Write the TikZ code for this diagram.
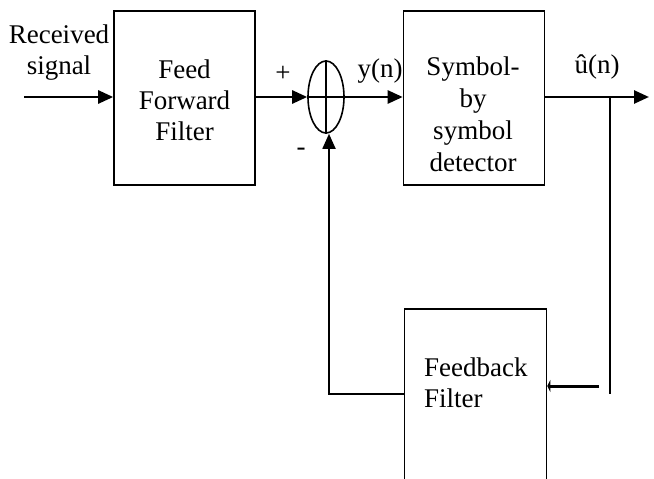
\documentclass[tikz,border=0pt]{standalone}
\usepackage{fontspec}
\setmainfont{Liberation Serif}
\usetikzlibrary{arrows.meta,shapes.geometric}
\begin{document}
\begin{tikzpicture}[x=1pt,y=-1pt,
  blk/.style={draw,line width=1.6pt,minimum width=141pt,minimum height=174pt,inner sep=0pt},
  lbl/.style={font=\fontsize{27}{31}\selectfont,inner sep=0pt,align=center},
  sig/.style={line width=2.6pt,-{Triangle[length=15pt,width=13pt]}},
  fbl/.style={line width=1.8pt}]
\clip (0,0) rectangle (654,479);
% blocks
\node[blk] (ff) at (184.5,98) {};
\node[blk] (sd) at (474,98) {};
\node[draw,line width=1.6pt,minimum width=142pt,minimum height=220pt,inner sep=0pt] (fb) at (475.5,419) {};
\node[draw,ellipse,line width=1.6pt,minimum width=36pt,minimum height=72pt,inner sep=0pt] (sum) at (326,97) {};
\draw[line width=1.6pt] (sum.north) -- (sum.south);
\draw[line width=1.6pt] (sum.west) -- (sum.east);
% texts
\node[lbl] (rx) at (59,53) {Received\\signal};
\node[lbl] (fft) at (184.5,100.5) {Feed\\Forward\\Filter};
\node[lbl,font=\fontsize{27}{32}\selectfont] (sdt) at (473,114) {Symbol-\\by\\symbol\\detector};
\node[lbl,align=left,anchor=west] (fbt) at (424,383) {Feedback\\Filter};
\node[lbl] (plus) at (283,74) {+};
\node[lbl] (minus) at (301,152) {-};
\node[lbl,anchor=base] (yn) at (380,77) {y(n)};
\node[lbl,anchor=base] (un) at (597,73) {\^{u}(n)};
% coordinates
\coordinate (in) at (24,97);
\coordinate (out) at (649,97);
\coordinate (br) at (610,97);
\coordinate (brb) at (610,394);
\coordinate (fbin) at (599,386);
\coordinate (fbout) at (329,394);
% connectors
\draw[sig] (in) -- (ff.west |- in);
\draw[sig] (ff.east |- sum) -- (sum.west);
\draw[sig] (sum.east) -- (sd.west |- sum);
\draw[sig] (sd.east |- out) -- (out);
\draw[fbl] (br) -- (brb);
\draw[line width=3pt,-{Triangle[length=3pt,width=12pt]}] (fbin) -- (fb.east |- fbin);
\draw[fbl,-{Triangle[length=15pt,width=13pt]}] (fb.west |- fbout) -- (fbout) -- (fbout |- sum.south);
\end{tikzpicture}
\end{document}
